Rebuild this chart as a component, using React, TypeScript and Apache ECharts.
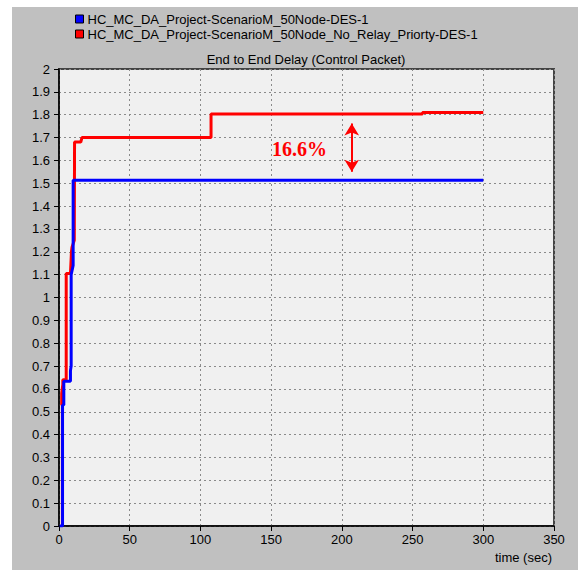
import React, { useEffect, useRef } from "react";
import * as echarts from "echarts";

const seriesNames = [
  "HC_MC_DA_Project-ScenarioM_50Node-DES-1",
  "HC_MC_DA_Project-ScenarioM_50Node_No_Relay_Priorty-DES-1",
];
const chartTitle = "End to End Delay (Control Packet)";
const xAxisName = "time (sec)";

const blueTime = [0.5, 2.5, 2.5, 3.4, 3.4, 8.1, 8.1, 8.6, 8.6, 10.0, 10.0, 300];
const blueDelay = [0, 0, 0.53, 0.53, 0.633, 0.633, 0.68, 0.7, 1.1, 1.14, 1.513, 1.513];

const redTime = [2.4, 2.4, 1.9, 1.9, 2.7, 2.7, 5.1, 5.1, 8.1, 8.8, 9.2, 10.8, 11.0, 15.4, 16.2, 107.5, 107.5, 257, 257, 300];
const redDelay = [0, 0.53, 0.53, 0.58, 0.62, 0.64, 0.64, 1.105, 1.105, 1.2, 1.22, 1.25, 1.68, 1.68, 1.7, 1.7, 1.803, 1.803, 1.81, 1.81];

const annotationText = "16.6%";
const annotationPos = [170, 1.648];
const arrowX = 207;
const arrowTop = 1.762;
const arrowBottom = 1.55;

const toPairs = (t: number[], v: number[]) => t.map((x, i) => [x, v[i]]);

export default function App() {
  const ref = useRef<HTMLDivElement>(null);
  useEffect(() => {
    if (!ref.current) return;
    const chart = echarts.init(ref.current, null, { renderer: "svg" });
    const font = "'Liberation Sans', Arial, sans-serif";
    chart.setOption({
      animation: false,
      backgroundColor: "#c0c0c0",
      textStyle: { fontFamily: font },
      graphic: [
        { type: "rect", silent: true, shape: { x: 0, y: 0, width: 578, height: 7 }, style: { fill: "#ffffff" } },
        { type: "rect", silent: true, shape: { x: 0, y: 0, width: 12, height: 570 }, style: { fill: "#ffffff" } },
      ],
      title: {
        text: chartTitle,
        left: 306,
        textAlign: "center",
        top: 53,
        padding: 0,
        textStyle: { fontSize: 13, fontWeight: "normal", color: "#000", fontFamily: font },
      },
      legend: {
        orient: "vertical",
        left: 75,
        top: 12,
        padding: 0,
        itemGap: 1,
        itemWidth: 8,
        itemHeight: 8,
        icon: "rect",
        data: seriesNames,
        itemStyle: { borderColor: "#000", borderWidth: 1 },
        textStyle: { fontSize: 13, color: "#000", fontFamily: font, lineHeight: 14, padding: [0, 0, 0, -1] },
      },
      grid: {
        left: 59,
        right: 24,
        top: 69,
        bottom: 44,
        show: true,
        backgroundColor: "#f0f0f0",
        borderColor: "#444",
        borderWidth: 2,
        containLabel: false,
      },
      xAxis: {
        type: "value",
        min: 0,
        max: 350,
        interval: 50,
        name: xAxisName,
        nameLocation: "end",
        nameGap: -2,
        nameTextStyle: {
          fontSize: 13,
          color: "#000",
          fontFamily: font,
          align: "right",
          verticalAlign: "top",
          padding: [25, 0, 0, 0],
        },
        axisLine: { show: true, onZero: false, lineStyle: { color: "#000", width: 1.5 } },
        axisTick: { show: true, length: 5, lineStyle: { color: "#000" } },
        axisLabel: { color: "#000", fontSize: 13, margin: 7, fontFamily: font },
        splitLine: { show: true, lineStyle: { color: "#8a8a8a", type: [2, 3], width: 1 } },
      },
      yAxis: {
        type: "value",
        min: 0,
        max: 2,
        interval: 0.1,
        axisLine: { show: true, onZero: false, lineStyle: { color: "#000", width: 1.5 } },
        axisTick: { show: true, length: 5, lineStyle: { color: "#000" } },
        axisLabel: { color: "#000", fontSize: 13, margin: 9, fontFamily: font },
        splitLine: { show: true, lineStyle: { color: "#8a8a8a", type: [2, 3], width: 1 } },
      },
      series: [
        {
          name: seriesNames[0],
          type: "line",
          z: 4,
          data: toPairs(blueTime, blueDelay),
          showSymbol: false,
          symbol: "none",
          color: "#0000ff",
          itemStyle: { color: "#0000ff" },
          lineStyle: { color: "#0000ff", width: 3 },
        },
        {
          name: seriesNames[1],
          type: "line",
          z: 3,
          data: toPairs(redTime, redDelay),
          showSymbol: false,
          symbol: "none",
          color: "#ff0000",
          itemStyle: { color: "#ff0000" },
          lineStyle: { color: "#ff0000", width: 3 },
          markPoint: {
            silent: true,
            symbol: "circle",
            symbolSize: 0,
            data: [
              {
                coord: annotationPos,
                label: {
                  show: true,
                  position: "inside",
                  formatter: annotationText,
                  color: "#ff0000",
                  fontSize: 20,
                  fontWeight: "bold",
                  fontFamily: "'Liberation Serif', 'Times New Roman', serif",
                },
              },
            ],
          },
          markLine: {
            silent: true,
            symbol: ["arrow", "arrow"],
            symbolSize: [11, 12],
            label: { show: false },
            lineStyle: { color: "#ff0000", width: 2, type: "solid" },
            data: [[{ coord: [arrowX, arrowTop] }, { coord: [arrowX, arrowBottom] }]],
          },
        },
      ],
    });
    return () => chart.dispose();
  }, []);
  return (
    <div
      ref={ref}
      style={{ position: "absolute", left: 0, top: 0, width: 578, height: 570 }}
    />
  );
}
